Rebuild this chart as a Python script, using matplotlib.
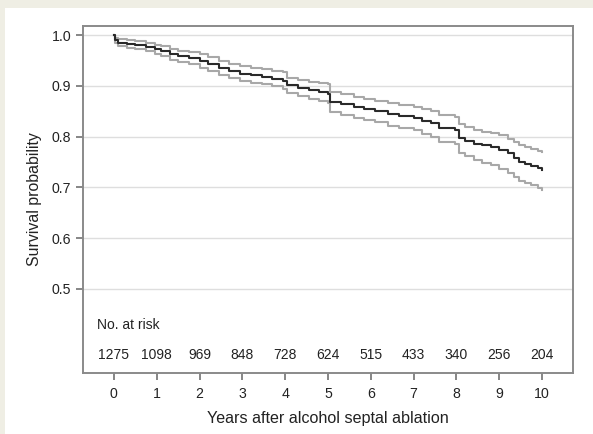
import matplotlib.pyplot as plt
from matplotlib.patches import Rectangle

plt.rcParams['font.family'] = ['Liberation Sans', 'DejaVu Sans']

# Kaplan-Meier estimate
t = [0, 0.03, 0.1, 0.3, 0.5, 0.75, 0.95, 1.1, 1.3, 1.5, 1.75, 2.0, 2.2, 2.45, 2.7,
     2.95, 3.2, 3.45, 3.7, 3.95, 4.05, 4.3, 4.55, 4.8, 5.0, 5.05, 5.3, 5.6, 5.85,
     6.1, 6.4, 6.65, 7.0, 7.2, 7.4, 7.6, 7.97, 8.05, 8.2, 8.4, 8.6, 8.8, 9.0, 9.2,
     9.35, 9.45, 9.6, 9.75, 9.9, 10.0]
surv = [1.0, 0.99, 0.985, 0.983, 0.980, 0.977, 0.972, 0.968, 0.962, 0.958, 0.955,
        0.949, 0.944, 0.936, 0.930, 0.924, 0.921, 0.918, 0.914, 0.910, 0.901, 0.896,
        0.891, 0.888, 0.885, 0.868, 0.864, 0.858, 0.854, 0.850, 0.845, 0.841, 0.836,
        0.831, 0.826, 0.818, 0.813, 0.797, 0.792, 0.786, 0.783, 0.780, 0.774, 0.767,
        0.758, 0.750, 0.747, 0.743, 0.738, 0.735]
upper = [1.0, 0.995, 0.992, 0.990, 0.988, 0.985, 0.981, 0.978, 0.973, 0.969, 0.966,
         0.962, 0.957, 0.950, 0.944, 0.939, 0.936, 0.933, 0.930, 0.927, 0.916, 0.912,
         0.908, 0.906, 0.904, 0.888, 0.884, 0.878, 0.875, 0.871, 0.866, 0.862, 0.858,
         0.855, 0.851, 0.843, 0.838, 0.824, 0.819, 0.813, 0.810, 0.808, 0.803, 0.796,
         0.790, 0.783, 0.780, 0.776, 0.772, 0.770]
lower = [1.0, 0.984, 0.978, 0.975, 0.972, 0.968, 0.963, 0.958, 0.952, 0.947, 0.943,
         0.936, 0.930, 0.921, 0.916, 0.909, 0.906, 0.903, 0.899, 0.894, 0.886, 0.880,
         0.875, 0.871, 0.867, 0.848, 0.843, 0.837, 0.832, 0.828, 0.822, 0.818, 0.813,
         0.806, 0.799, 0.790, 0.785, 0.767, 0.761, 0.754, 0.749, 0.745, 0.737, 0.728,
         0.720, 0.712, 0.709, 0.704, 0.699, 0.695]

years = [0, 1, 2, 3, 4, 5, 6, 7, 8, 9, 10]
at_risk = [1275, 1098, 969, 848, 728, 624, 515, 433, 340, 256, 204]
yticks = [0.5, 0.6, 0.7, 0.8, 0.9, 1.0]

fig = plt.figure(figsize=(5.93, 4.34), dpi=100)
fig.patch.set_facecolor('#efeee4')
panel = Rectangle((5 / 593, 0), 588 / 593, 426 / 434, transform=fig.transFigure,
                  facecolor='white', edgecolor='none', zorder=-10)
fig.add_artist(panel)

ax = fig.add_axes([83 / 593, 1 - 373 / 434, 490 / 593, 347 / 434])
ax.set_facecolor('white')

for yv in yticks:
    ax.axhline(yv, color='#dedede', lw=1.0, zorder=1)

ax.step(t, upper, where='post', color='#a8a8a8', lw=1.5, zorder=2)
ax.step(t, lower, where='post', color='#a8a8a8', lw=1.5, zorder=2)
ax.step(t, surv, where='post', color='#2a2a2a', lw=1.5, zorder=3)

ax.text(-0.4, 0.429, 'No. at risk', fontsize=10, va='center', ha='left', color='#222222')
for x, n in zip(years, at_risk):
    ax.text(x, 0.370, str(n), fontsize=10, va='center', ha='center', color='#222222')

ax.set_xlim(-0.72, 10.72)
ax.set_ylim(0.3345, 1.018)
ax.set_xticks(years)
ax.set_yticks(yticks)
ax.set_yticklabels(['%.1f' % v for v in yticks])
ax.tick_params(axis='both', direction='out', length=5, width=1.1, color='#666666',
               labelsize=10.2, labelcolor='#222222')
ax.tick_params(axis='x', pad=5)

for s in ax.spines.values():
    s.set_color('#8a8a8a')
    s.set_linewidth(1.4)

ax.set_xlabel('Years after alcohol septal ablation', fontsize=11.6, color='#222222', labelpad=7)
ax.set_ylabel('Survival probability', fontsize=11.4, color='#222222', labelpad=7)

fig.savefig('out.png', dpi=100, facecolor=fig.get_facecolor())
